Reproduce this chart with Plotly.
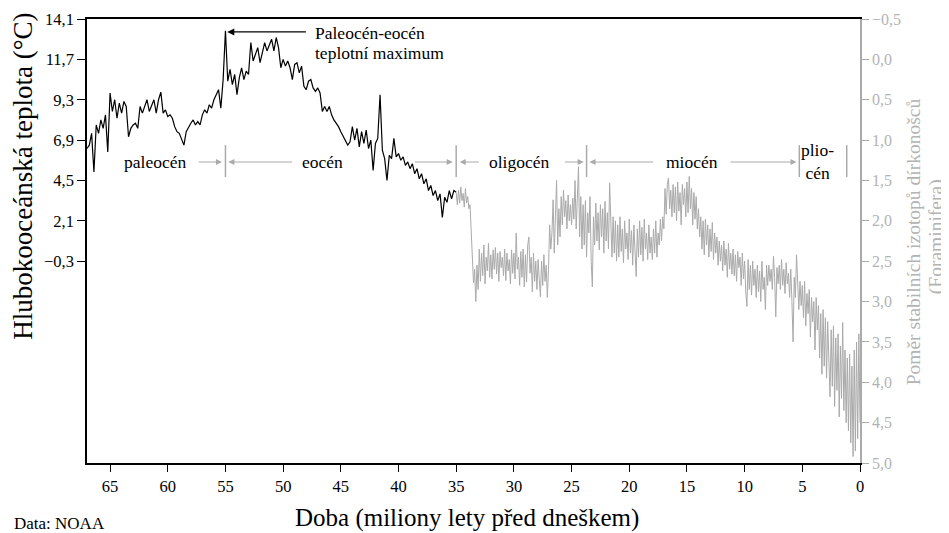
import numpy as np
import plotly.graph_objects as go

# ---------------- data ----------------
# Deep-ocean temperature (black, °C), ages 67.0 -> 35.0 Ma, step 0.2
black_start, black_step = 67.0, 0.2
black_temp = [
    6.4, 6.6, 7.3, 5.0, 7.8, 7.3, 8.1, 7.6, 8.4, 6.2,
    9.7, 8.6, 9.3, 8.2, 9.1, 8.5, 9.2, 8.9, 7.1, 7.6,
    7.8, 7.9, 7.6, 8.9, 8.5, 8.9, 9.3, 8.6, 9.0, 9.3,
    8.5, 9.3, 9.75, 8.5, 8.7, 8.3, 8.4, 8.2, 7.7, 7.4,
    7.3, 6.9, 6.6, 7.4, 7.7, 7.9, 8.1, 7.8, 8.0, 7.8,
    8.4, 8.7, 8.5, 9.0, 8.8, 9.3, 9.6, 9.9, 8.8, 10.5,
    13.4, 10.4, 11.1, 10.2, 10.8, 9.6, 10.6, 11.2, 10.5, 11.0,
    10.8, 12.7, 11.6, 12.0, 12.4, 11.5, 12.1, 12.7, 12.2, 12.6,
    12.9, 12.2, 13.0, 12.4, 11.2, 11.7, 11.3, 11.6, 11.2, 10.5,
    11.4, 11.5, 10.9, 11.3, 10.1, 9.9, 10.4, 10.5, 10.0, 9.8,
    10.0, 9.7, 8.6, 8.9, 8.6, 8.9, 8.4, 8.1, 7.9, 7.7,
    7.4, 7.1, 6.9, 6.6, 6.8, 7.7, 6.9, 7.6, 6.5, 7.4,
    6.7, 7.5, 6.4, 6.9, 5.1, 6.7, 7.0, 9.6, 6.3, 5.8,
    4.5, 6.0, 5.8, 7.0, 5.9, 6.1, 5.7, 5.9, 5.4, 5.6,
    5.2, 5.5, 4.9, 5.2, 4.6, 4.9, 4.3, 4.6, 3.9, 4.2,
    3.6, 3.9, 3.3, 3.7, 2.3, 3.5, 3.2, 3.9, 3.4, 3.9,
    3.8,
]

# Foraminifera oxygen-isotope ratio (grey, per mil), ages 35.0 -> 0.0 Ma, step 0.1
grey_start, grey_step = 35.0, 0.1
grey_d18o = [
    1.65, 1.80, 1.62, 1.78, 1.58, 1.75, 1.66, 1.83, 1.60, 1.78,
    1.70, 1.85, 1.80, 2.11, 2.26, 2.77, 2.60, 3.00, 2.55, 2.85,
    2.35, 2.75, 2.40, 2.68, 2.30, 2.78, 2.45, 2.62, 2.28, 2.70,
    2.42, 2.72, 2.36, 2.60, 2.33, 2.66, 2.40, 2.75, 2.38, 2.58,
    2.45, 2.68, 2.35, 2.74, 2.40, 2.62, 2.48, 2.78, 2.36, 2.65,
    2.40, 2.72, 2.15, 2.60, 2.45, 2.80, 2.38, 2.70, 2.35, 2.82,
    2.42, 2.76, 2.30, 2.20, 2.65, 2.45, 2.88, 2.40, 2.75, 2.50,
    2.85, 2.48, 2.72, 2.94, 2.50, 2.80, 2.42, 2.75, 2.55, 2.95,
    2.60, 2.05, 2.35, 2.15, 1.74, 2.40, 1.95, 1.50, 2.30, 1.85,
    2.20, 1.70, 2.05, 1.62, 1.95, 1.75, 2.10, 1.68, 2.00, 1.80,
    2.05, 1.72, 1.98, 1.50, 2.10, 1.80, 1.33, 2.20, 1.70, 2.35,
    1.80, 2.30, 1.75, 2.45, 1.90, 2.15, 1.70, 2.50, 2.82, 1.95,
    2.30, 1.78, 2.25, 1.90, 2.36, 1.80, 2.20, 1.85, 2.40, 1.76,
    2.25, 1.90, 2.35, 1.53, 2.10, 2.45, 1.95, 2.40, 2.00, 2.50,
    2.05, 2.45, 1.95, 2.38, 2.10, 2.52, 2.00, 2.35, 2.15, 2.48,
    1.98, 2.40, 2.12, 2.55, 2.05, 2.30, 2.69, 2.10, 2.45, 2.00,
    2.42, 2.08, 2.50, 1.98, 2.35, 2.15, 2.48, 2.05, 2.40, 2.20,
    2.48, 2.10, 2.40, 2.00, 2.45, 2.15, 2.30, 1.98, 2.25, 1.95,
    2.10, 1.60, 1.92, 1.55, 1.47, 1.85, 1.62, 1.95, 1.55, 1.90,
    1.58, 2.00, 1.52, 1.88, 1.65, 2.05, 1.55, 1.80, 1.60, 1.95,
    1.52, 1.90, 1.45, 1.85, 1.60, 2.05, 1.65, 1.98, 1.70, 2.10,
    1.85, 2.20, 1.95, 2.35, 2.00, 2.42, 1.98, 2.30, 2.05, 2.45,
    2.10, 2.38, 2.02, 2.48, 2.15, 2.40, 2.20, 2.55, 2.25, 2.50,
    2.30, 2.62, 2.25, 2.55, 2.35, 2.70, 2.28, 2.60, 2.40, 2.66,
    2.35, 2.68, 2.42, 2.75, 2.38, 2.58, 2.45, 2.80, 2.40, 2.72,
    2.50, 2.88, 3.06, 2.48, 2.85, 2.55, 2.92, 2.50, 2.80, 2.60,
    2.95, 2.55, 2.88, 2.62, 3.00, 2.50, 2.85, 2.70, 3.10, 2.55,
    2.80, 2.55, 2.75, 2.60, 2.85, 2.44, 2.70, 3.19, 2.58, 2.78,
    2.55, 2.85, 2.48, 2.80, 2.60, 2.90, 2.52, 2.78, 2.65, 2.95,
    2.60, 3.00, 3.50, 2.70, 2.95, 2.42, 2.85, 3.10, 2.75, 3.05,
    2.80, 3.20, 2.75, 3.30, 2.90, 3.15, 2.85, 3.44, 2.95, 3.25,
    3.00, 3.60, 2.95, 3.35, 3.05, 3.70, 3.15, 3.90, 3.10, 3.80,
    3.20, 3.95, 3.25, 3.75, 4.18, 3.35, 4.05, 3.30, 4.30, 3.45,
    4.10, 3.40, 4.43, 3.55, 4.20, 3.26, 4.35, 3.60, 4.50, 3.70,
    4.60, 3.65, 4.75, 3.80, 4.92, 3.60, 4.85, 3.50, 4.70, 3.40,
    4.50,
]

x_ticks = [65, 60, 55, 50, 45, 40, 35, 30, 25, 20, 15, 10, 5, 0]
temp_ticks = [14.1, 11.7, 9.3, 6.9, 4.5, 2.1, -0.3]
iso_ticks = [-0.5, 0.0, 0.5, 1.0, 1.5, 2.0, 2.5, 3.0, 3.5, 4.0, 4.5, 5.0]

epochs = ["paleocén", "eocén", "oligocén", "miocén", "plio-<br>cén"]
epoch_centers = [61.1, 46.6, 29.5, 14.6, 3.65]
epoch_bounds = [55.0, 35.0, 23.7, 5.26, 1.15]

black_age = np.round(black_start - black_step * np.arange(len(black_temp)), 2)
grey_age = np.round(grey_start - grey_step * np.arange(len(grey_d18o)), 2)


def fmt(v):
    s = f"{abs(v):.1f}".replace(".", ",")
    return ("\u2212" + s) if v < 0 else s


FONT = "Liberation Serif, DejaVu Serif, serif"
GREY = "#aaaaaa"
GREY_TXT = "#b3b3b3"

fig = go.Figure()
fig.add_trace(go.Scatter(x=grey_age, y=grey_d18o, mode="lines", yaxis="y2",
                         line=dict(color=GREY, width=1), hoverinfo="skip",
                         showlegend=False))
fig.add_trace(go.Scatter(x=black_age, y=black_temp, mode="lines", yaxis="y",
                         line=dict(color="black", width=1.2), hoverinfo="skip",
                         showlegend=False))

bar_lo, bar_hi, arr_y = 4.7, 6.6, 5.6
shapes = []
for b in epoch_bounds:
    shapes.append(dict(type="line", xref="x", yref="y", x0=b, x1=b,
                       y0=bar_lo, y1=bar_hi, line=dict(color=GREY, width=1.5)))

annotations = []
for name, c in zip(epochs, epoch_centers):
    annotations.append(dict(x=c, y=arr_y, xref="x", yref="y", text=name,
                            showarrow=False, font=dict(family=FONT, size=17.5, color="black"),
                            xanchor="center", yanchor="middle"))

arrows = [  # (tail, tip)
    (57.45, 55.3), (49.1, 54.75), (38.7, 35.3), (32.9, 34.7),
    (25.7, 23.95), (17.8, 23.45), (11.35, 5.5),
]
for tail, tip in arrows:
    annotations.append(dict(x=tip, y=arr_y, ax=tail, ay=arr_y, xref="x", yref="y",
                            axref="x", ayref="y", text="", showarrow=True,
                            arrowhead=2, arrowsize=1.1, arrowwidth=1.1,
                            arrowcolor=GREY))

# PETM annotation
annotations.append(dict(x=54.85, y=13.33, ax=47.9, ay=13.33, xref="x", yref="y",
                        axref="x", ayref="y", text="", showarrow=True,
                        arrowhead=2, arrowsize=1.1, arrowwidth=1.3, arrowcolor="black"))
for txt, yv in [("Paleocén-eocén", 13.27), ("teplotní maximum", 12.08)]:
    annotations.append(dict(x=47.4, y=yv, xref="x", yref="y", text=txt, showarrow=False,
                            xanchor="left", yanchor="middle",
                            font=dict(family=FONT, size=17.5, color="black")))

# axis titles (placed like the original)
annotations.append(dict(x=-0.0821, y=0.646, xref="paper", yref="paper",
                        text="Hlubokooceánská teplota (°C)", textangle=-90, showarrow=False,
                        xanchor="center", yanchor="middle",
                        font=dict(family=FONT, size=27, color="black")))
annotations.append(dict(x=0.4916, y=-0.124, xref="paper", yref="paper",
                        text="Doba (miliony lety před dneškem)", showarrow=False,
                        xanchor="center", yanchor="middle",
                        font=dict(family=FONT, size=25, color="black")))
annotations.append(dict(x=1.0686, y=0.497, xref="paper", yref="paper",
                        text="Poměr stabilních izotopů dírkonošců", textangle=-90,
                        showarrow=False, xanchor="center", yanchor="middle",
                        font=dict(family=FONT, size=19.5, color=GREY_TXT)))
annotations.append(dict(x=1.0985, y=0.509, xref="paper", yref="paper",
                        text="(Foraminifera)", textangle=-90,
                        showarrow=False, xanchor="center", yanchor="middle",
                        font=dict(family=FONT, size=19.5, color=GREY_TXT)))

annotations.append(dict(x=-0.097, y=-0.136, xref="paper", yref="paper",
                        text="Data: NOAA", showarrow=False, xanchor="left", yanchor="middle",
                        font=dict(family=FONT, size=17, color="black")))

# page body has an 8px margin: figure is sized/padded to compensate
fig.update_layout(
    width=941, height=525,
    margin=dict(l=79, r=89, t=11, b=70),
    paper_bgcolor="white", plot_bgcolor="white",
    font=dict(family=FONT, color="black"),
    shapes=shapes, annotations=annotations,
    xaxis=dict(range=[67, 0], tickvals=x_ticks, ticktext=[str(t) for t in x_ticks],
               automargin=False,
               showgrid=False, zeroline=False, showline=True, linecolor="black",
               linewidth=1.6, mirror=True, ticks="outside", ticklen=7, tickwidth=1,
               tickcolor="black", tickfont=dict(family=FONT, size=16.5, color="black")),
    yaxis=dict(range=[-12.3, 14.1], tickvals=temp_ticks, ticktext=[fmt(v) for v in temp_ticks],
               automargin=False,
               showgrid=False, zeroline=False, showline=True, linecolor="black",
               linewidth=1.6, ticks="outside", ticklen=8, tickwidth=1, tickcolor="black",
               tickfont=dict(family=FONT, size=16.5, color="black")),
    yaxis2=dict(range=[5.0, -0.5], overlaying="y", side="right", automargin=False,
                tickvals=iso_ticks, ticktext=[fmt(v) for v in iso_ticks],
                showgrid=False, zeroline=False, showline=True, linecolor=GREY,
                linewidth=1.5, ticks="outside", ticklen=7, tickwidth=1, tickcolor=GREY,
                tickfont=dict(family=FONT, size=16, color=GREY_TXT)),
)

fig.write_html("out.html")
